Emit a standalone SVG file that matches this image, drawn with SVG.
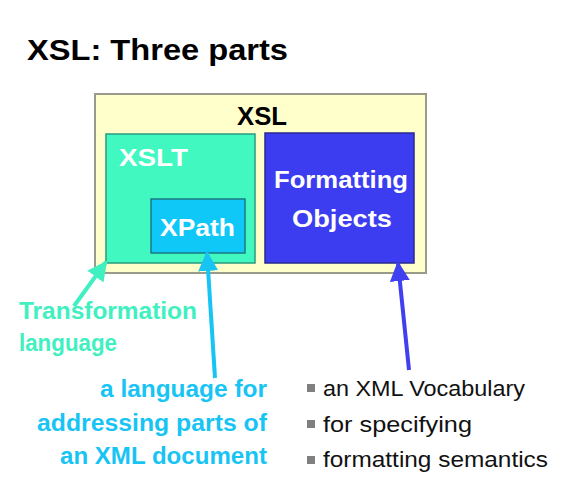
<svg xmlns="http://www.w3.org/2000/svg" width="578" height="503" viewBox="0 0 578 503">
<style>
.b{font-family:"Liberation Sans",Arial,sans-serif;font-weight:bold}
.w{fill:#ffffff;font-size:24px}
.n{font-family:"Liberation Sans",Arial,sans-serif;font-size:22px;fill:#111}
.sq{fill:#808080}
</style>
<defs>
<marker id="mT" viewBox="0 0 10 10" refX="9" refY="5" markerWidth="5" markerHeight="5" orient="auto" markerUnits="strokeWidth"><path d="M0,0 L10,5 L0,10 z" fill="#40F0C0"/></marker>
<marker id="mC" viewBox="0 0 10 10" refX="9" refY="5" markerWidth="5" markerHeight="5" orient="auto" markerUnits="strokeWidth"><path d="M0,0 L10,5 L0,10 z" fill="#18C4F4"/></marker>
<marker id="mB" viewBox="0 0 10 10" refX="9" refY="5" markerWidth="5" markerHeight="5" orient="auto" markerUnits="strokeWidth"><path d="M0,0 L10,5 L0,10 z" fill="#4040F0"/></marker>
</defs>
<rect width="578" height="503" fill="#ffffff"/>
<text class="b" x="27" y="60" font-size="29" fill="#000" textLength="261" lengthAdjust="spacingAndGlyphs">XSL: Three parts</text>
<g id="xsl">
<rect x="95" y="94" width="331" height="179" fill="#FFFFCC" stroke="#9a9a8a" stroke-width="2"/>
<text class="b" x="262" y="125" font-size="26" fill="#000" text-anchor="middle" textLength="50" lengthAdjust="spacingAndGlyphs">XSL</text>
</g>
<g id="xslt">
<rect x="106" y="134" width="149" height="129" fill="#40F8C0" stroke="#2a9a80" stroke-width="1.5"/>
<text class="b w" x="119" y="166" textLength="69" lengthAdjust="spacingAndGlyphs">XSLT</text>
</g>
<g id="xpath">
<rect x="151" y="199" width="94" height="54" fill="#10C8F8" stroke="#1a7a80" stroke-width="1.5"/>
<text class="b w" x="160" y="236" textLength="75" lengthAdjust="spacingAndGlyphs">XPath</text>
</g>
<g id="fo">
<rect x="265" y="133" width="149" height="130" fill="#3C3CF0" stroke="#2a2a90" stroke-width="1.5"/>
<text class="b w" x="274" y="188" textLength="134" lengthAdjust="spacingAndGlyphs">Formatting</text>
<text class="b w" x="292" y="227" textLength="100" lengthAdjust="spacingAndGlyphs">Objects</text>
</g>
<g id="connectors">
<line x1="74" y1="306" x2="106" y2="262" stroke="#40F0C0" stroke-width="4" marker-end="url(#mT)"/>
<line x1="215" y1="378" x2="207" y2="253" stroke="#18C4F4" stroke-width="4" marker-end="url(#mC)"/>
<line x1="409" y1="370" x2="398" y2="263" stroke="#4040F0" stroke-width="4" marker-end="url(#mB)"/>
</g>
<g id="transformation">
<text class="b" x="19" y="319" font-size="23" fill="#40F0C0" textLength="178" lengthAdjust="spacingAndGlyphs">Transformation</text>
<text class="b" x="19" y="351" font-size="23" fill="#40F0C0" textLength="98" lengthAdjust="spacingAndGlyphs">language</text>
</g>
<g id="addressing">
<text class="b" x="100" y="397" font-size="23" fill="#18C4F4" textLength="167" lengthAdjust="spacingAndGlyphs">a language for</text>
<text class="b" x="37" y="431" font-size="23" fill="#18C4F4" textLength="230" lengthAdjust="spacingAndGlyphs">addressing parts of</text>
<text class="b" x="60" y="464" font-size="23" fill="#18C4F4" textLength="207" lengthAdjust="spacingAndGlyphs">an XML document</text>
</g>
<g id="vocab">
<rect class="sq" x="307" y="384" width="8" height="8"/>
<text class="n" x="323" y="396" textLength="202" lengthAdjust="spacingAndGlyphs">an XML Vocabulary</text>
<rect class="sq" x="307" y="420" width="8" height="8"/>
<text class="n" x="323" y="432" textLength="149" lengthAdjust="spacingAndGlyphs">for specifying</text>
<rect class="sq" x="307" y="456" width="8" height="8"/>
<text class="n" x="323" y="467" textLength="225" lengthAdjust="spacingAndGlyphs">formatting semantics</text>
</g>
</svg>
